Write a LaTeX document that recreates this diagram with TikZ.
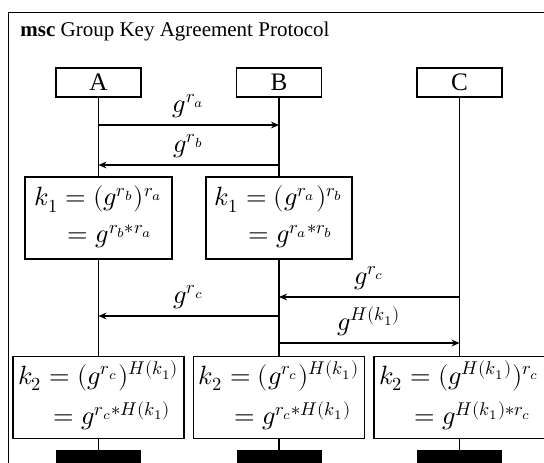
\documentclass[tikz,border=0pt]{standalone}
\usepackage{amsmath}
\usepackage{fontspec}
\usepackage{unicode-math}
\setmainfont{Liberation Serif}
\setmathfont{Latin Modern Math}
\usetikzlibrary{arrows.meta}
\begin{document}
\begin{tikzpicture}[
  x=0.5pt, y=-0.5pt,
  instance/.style={draw, line width=0.7pt, minimum width=42.5pt, minimum height=14.5pt, inner sep=0pt, font=\fontsize{12.6}{15}\selectfont},
  action/.style={draw, line width=0.6pt, minimum height=41pt, inner sep=0pt, font=\fontsize{13.2}{15.5}\selectfont},
  lifeline/.style={draw, line width=0.9pt},
  msg/.style={draw, line width=0.6pt, -{Stealth[length=4pt,width=3.4pt]}},
  msglabel/.style={above, font=\fontsize{13.2}{15.5}\selectfont},
  stopbar/.style={fill=black, minimum width=42.5pt, minimum height=10pt, inner sep=0pt}
]
\clip (0,0) rectangle (544,462);
\draw[line width=0.7pt] (8.5,12.5) rectangle (620,520);
\node[anchor=base west, inner sep=0pt, font=\fontsize{10.5}{12}\selectfont] (title) at (20,36) {\textbf{msc} Group Key Agreement Protocol};

% instance heads
\node[instance] (A) at (98.5,82.5) {A};
\node[instance] (B) at (279,82.5) {B};
\node[instance] (C) at (459.5,82.5) {C};

% first key
\node[action, minimum width=73.5pt] (ka) at (98.5,218)
  {$\begin{aligned} k_1 = (g^{r_b})^{r_a}\\ = g^{r_b*r_a}\kern5pt\end{aligned}$};
\node[action, minimum width=73pt] (kb) at (279,218)
  {$\begin{aligned} k_1 = (g^{r_a})^{r_b}\\ = g^{r_a*r_b}\kern5pt\end{aligned}$};

% second key
\node[action, minimum width=85.5pt] (kka) at (98.5,397.5)
  {$\begin{aligned} k_2 = (g^{r_c})^{H(k_1)}\\ = g^{r_c*H(k_1)}\kern4pt\end{aligned}$};
\node[action, minimum width=85.5pt] (kkb) at (279,397.5)
  {$\begin{aligned} k_2 = (g^{r_c})^{H(k_1)}\\ = g^{r_c*H(k_1)}\kern4pt\end{aligned}$};
\node[action, minimum width=85.5pt] (kkc) at (459.5,397.5)
  {$\begin{aligned} k_2 = (g^{H(k_1)})^{r_c}\\ = g^{H(k_1)*r_c}\kern4pt\end{aligned}$};

% instance ends
\node[stopbar] (endA) at (98.5,460) {};
\node[stopbar] (endB) at (279,460) {};
\node[stopbar] (endC) at (459.5,460) {};

% lifelines
\draw[lifeline] (A) -- (ka) (ka) -- (kka) (kka) -- (endA);
\draw[lifeline] (B) -- (kb) (kb) -- (kkb) (kkb) -- (endB);
\draw[lifeline] (C) -- (kkc) (kkc) -- (endC);

% messages
\draw[msg] (A |- 0,125) -- node[msglabel] {$g^{r_a}$} (B |- 0,125);
\draw[msg] (B |- 0,165) -- node[msglabel] {$g^{r_b}$} (A |- 0,165);
\draw[msg] (C |- 0,297) -- node[msglabel] {$g^{r_c}$} (B |- 0,297);
\draw[msg] (B |- 0,316) -- node[msglabel] {$g^{r_c}$} (A |- 0,316);
\draw[msg] (B |- 0,343) -- node[msglabel] {$g^{H(k_1)}$} (C |- 0,343);
\end{tikzpicture}
\end{document}
